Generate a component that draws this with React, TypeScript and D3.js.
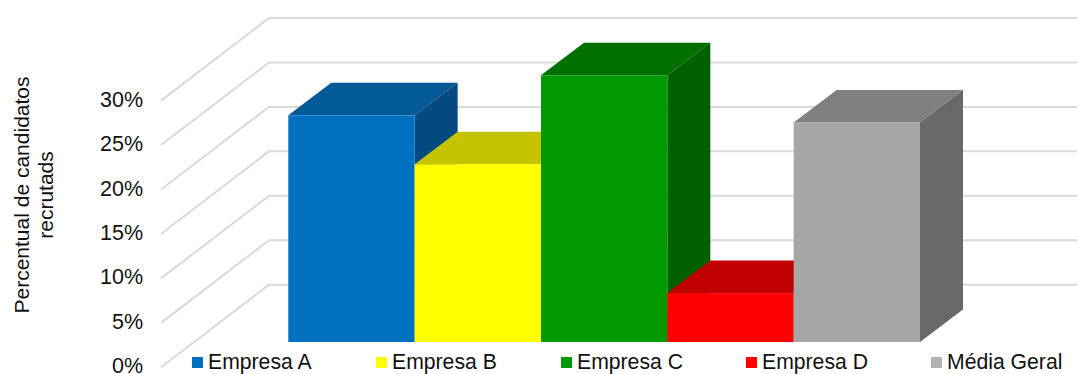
import React from "react";
import * as d3 from "d3";

// Recruitment share per company
const categories = ["Empresa A", "Empresa B", "Empresa C", "Empresa D", "Média Geral"];
const values = [25.5, 20, 30, 5.5, 24.7];
const frontColors = ["#0070c0", "#ffff00", "#009900", "#ff0000", "#a6a6a6"];
const topColors = ["#015a96", "#c4c400", "#007000", "#c00000", "#808080"];
const sideColors = ["#024a80", "#a8a800", "#006000", "#a00000", "#696969"];
const swatchColors = ["#0070c0", "#ffff00", "#009900", "#ff0000", "#b2b2b2"];
const legendX = [192, 376, 561, 746, 931];
const ticks = [0, 5, 10, 15, 20, 25, 30];
const titleLines = ["Percentual de candidatos", "recrutads"];

const W = 1077;
const H = 374;
const FONT = '"Liberation Sans", Arial, sans-serif';

// Back wall of the 3D plot, and how far the floor projects towards the viewer
const backY = d3.scaleLinear().domain([0, 30]).range([284.7, 18]);
const wallLeft = 269;
const floorDx = 108;
const floorDy = 82.6;

// Bars stand mid-way on the floor with a shallower depth of their own
const barX = d3.scaleBand<string>().domain(categories).range([288.3, 920]).padding(0);
const barBase = 342;
const barDx = 43;
const barDy = 32.5;
const barHeight = d3.scaleLinear().domain([0, 30]).range([0, 266.7]);

const poly = d3.line<[number, number]>().x((d) => d[0]).y((d) => d[1]);

export default function App() {
  return (
    <svg
      width={W}
      height={H}
      viewBox={`0 0 ${W} ${H}`}
      style={{ position: "absolute", left: 0, top: 0, background: "#fff" }}
    >
      {ticks.map((t) => {
        const y = backY(t);
        return (
          <g key={t}>
            <path
              d={poly([
                [wallLeft - floorDx, y + floorDy],
                [wallLeft, y],
                [W, y],
              ]) ?? ""}
              fill="none"
              stroke="#d9d9d9"
              strokeWidth={2}
            />
            <text
              x={143}
              y={y + floorDy + 6}
              textAnchor="end"
              fontFamily={FONT}
              fontSize={21.5}
              fill="#111"
            >
              {t}%
            </text>
          </g>
        );
      })}

      {categories.map((c, i) => {
        const x0 = barX(c) ?? 0;
        const x1 = x0 + barX.bandwidth();
        const top = barBase - barHeight(values[i]);
        return (
          <g key={c}>
            <path
              d={(poly([
                [x0, top],
                [x0 + barDx, top - barDy],
                [x1 + barDx, top - barDy],
                [x1, top],
              ]) ?? "") + "Z"}
              fill={topColors[i]}
            />
            <path
              d={(poly([
                [x1, top],
                [x1 + barDx, top - barDy],
                [x1 + barDx, barBase - barDy],
                [x1, barBase],
              ]) ?? "") + "Z"}
              fill={sideColors[i]}
            />
            <rect x={x0} y={top} width={x1 - x0} height={barBase - top} fill={frontColors[i]} />
          </g>
        );
      })}

      <g transform="rotate(-90)" fontFamily={FONT} fontSize={21} fill="#111" textAnchor="middle">
        {titleLines.map((line, i) => (
          <text key={line} x={-195} y={29 + i * 24}>
            {line}
          </text>
        ))}
      </g>

      {categories.map((c, i) => (
        <g key={c}>
          <rect x={legendX[i]} y={357} width={11} height={11} fill={swatchColors[i]} />
          <text x={legendX[i] + 16} y={369} fontFamily={FONT} fontSize={21.2} fill="#111">
            {c}
          </text>
        </g>
      ))}
    </svg>
  );
}
